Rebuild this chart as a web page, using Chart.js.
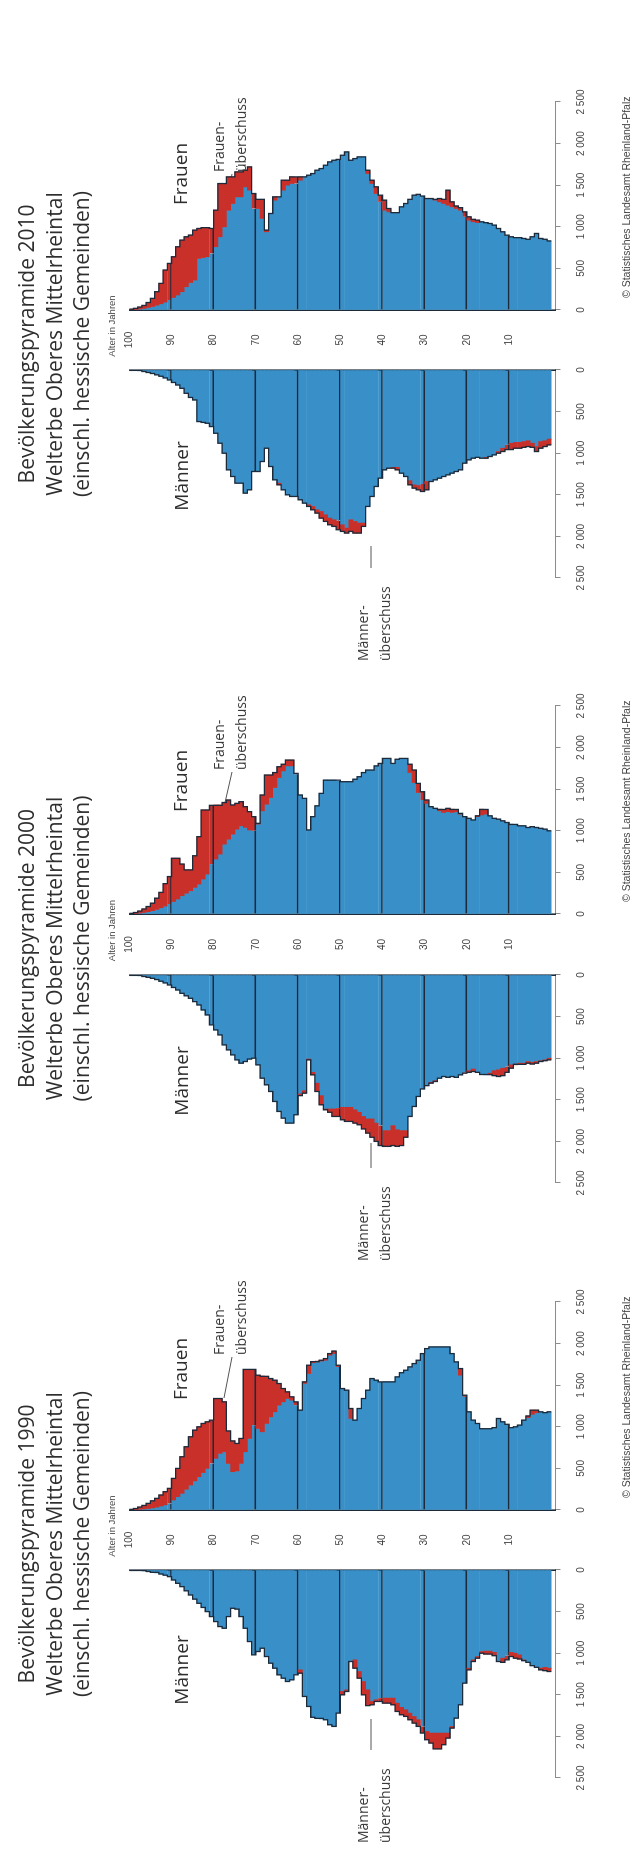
<!DOCTYPE html>
<html><head><meta charset="utf-8">
<script src="https://cdn.jsdelivr.net/npm/chart.js@4.4.1/dist/chart.umd.min.js"></script>
<style>
html,body{margin:0;padding:0;background:#fff;width:636px;height:1854px;overflow:hidden}
#stage{position:absolute;left:0;top:0;width:1854px;height:636px;transform-origin:0 0;transform:rotate(-90deg) translateX(-1854px);background:#fff}
#stage canvas{position:absolute}
.t{position:absolute;white-space:nowrap;color:#2e2e2e;font-family:"Open Sans",sans-serif}
.title{font-size:21px;line-height:27.5px;text-align:center;width:420px}
.sex{font-size:19px;transform:translate(-50%,-50%)}
.note{font-size:14px;line-height:22px;color:#3a3a3a}
.small{font-family:"Liberation Sans",Arial,sans-serif;color:#444}
#lines{position:absolute;left:0;top:0}
</style></head>
<body>
<div id="stage"><svg id="lines" width="1854" height="636"></svg></div>
<script>
// ---------- data (persons per single year of age, index = age 0..99) ----------
const ages = Array.from({length: 100}, (_, i) => i);
const ageTicks = [10, 20, 30, 40, 50, 60, 70, 80, 90, 100];
const valueTicks = [0, 500, 1000, 1500, 2000, 2500];

const male1990 = [1220,1210,1200,1170,1150,1110,1090,1070,1060,1040,
 1080,1110,1100,1030,1010,1010,1000,1060,1100,1200,
 1360,1620,1780,1900,2020,2100,2150,2150,2080,2040,
 1960,1880,1840,1800,1760,1740,1700,1620,1600,1600,
 1580,1580,1620,1630,1500,1300,1180,1100,1460,1500,
 1720,1880,1860,1800,1790,1780,1770,1640,1520,1240,
 1260,1320,1340,1300,1260,1180,1120,1040,940,980,
 1020,860,700,560,470,460,560,700,680,620,
 560,500,450,400,350,300,250,200,160,120,
 80,62,48,35,25,18,12,8,4,2];
const female1990 = [1180,1170,1180,1200,1200,1130,1080,1020,1000,990,
 1030,1060,1100,990,975,975,980,1040,1080,1180,
 1380,1700,1780,1880,1960,1960,1960,1960,1960,1940,
 1880,1800,1760,1720,1680,1650,1600,1540,1540,1540,
 1540,1560,1580,1440,1340,1220,1080,1220,1440,1460,
 1740,1910,1880,1820,1800,1790,1780,1740,1540,1200,
 1300,1360,1420,1460,1520,1560,1580,1600,1610,1620,
 1690,1690,1690,860,800,830,950,1300,1340,1340,
 1080,1060,1040,1000,960,880,760,640,500,380,
 260,220,180,140,110,80,55,35,18,8];

const male2000 = [1020,1030,1040,1060,1070,1060,1070,1070,1080,1120,
 1170,1210,1220,1210,1200,1200,1190,1170,1160,1170,
 1180,1200,1230,1220,1230,1220,1240,1280,1300,1330,
 1370,1460,1580,1700,1950,2050,2060,2050,2060,2060,
 2050,2000,1950,1900,1850,1800,1780,1760,1760,1740,
 1700,1700,1650,1620,1560,1400,1200,1020,1420,1450,
 1680,1780,1780,1720,1640,1520,1400,1320,1240,1080,
 1000,1010,1040,1060,1020,960,900,840,720,660,
 600,480,420,360,320,280,250,220,180,150,
 120,95,75,55,40,28,18,10,5,2];
const female2000 = [1000,1020,1030,1040,1050,1040,1060,1060,1070,1080,
 1100,1120,1140,1150,1180,1250,1260,1180,1130,1150,
 1170,1210,1250,1260,1270,1250,1260,1270,1290,1370,
 1470,1570,1730,1800,1870,1870,1860,1810,1870,1870,
 1810,1780,1730,1730,1700,1650,1620,1590,1590,1590,
 1600,1610,1610,1610,1450,1300,1170,1010,1390,1430,
 1690,1850,1850,1800,1770,1700,1670,1670,1430,1090,
 1170,1230,1290,1350,1330,1310,1370,1340,1310,1310,
 1300,1250,1250,930,700,530,530,600,670,670,
 450,365,260,190,130,90,60,35,18,8];

const male2010 = [900,920,940,980,930,920,930,940,940,950,
 960,980,1000,1020,1040,1060,1060,1050,1060,1080,
 1120,1200,1220,1240,1260,1280,1300,1320,1340,1440,
 1460,1440,1420,1380,1280,1240,1200,1180,1180,1200,
 1300,1400,1520,1640,1880,1960,1960,1940,1960,1940,
 1920,1880,1860,1820,1780,1720,1680,1640,1600,1560,
 1520,1520,1500,1440,1380,1320,1160,940,1100,1220,
 1220,1440,1480,1360,1360,1280,1200,1000,880,760,
 680,640,630,620,360,330,280,220,180,150,
 120,95,75,58,42,30,18,10,5,2];
const female2010 = [830,850,860,920,880,850,860,870,870,880,
 900,940,980,1020,1040,1050,1060,1080,1090,1120,
 1180,1230,1250,1300,1440,1330,1340,1330,1340,1340,
 1370,1390,1380,1330,1280,1240,1170,1170,1220,1320,
 1380,1480,1560,1680,1840,1840,1820,1800,1900,1860,
 1810,1800,1780,1740,1700,1680,1640,1620,1600,1600,
 1600,1600,1560,1560,1360,1360,1160,960,1330,1330,
 1400,1720,1680,1660,1660,1600,1600,1520,1520,1200,
 980,990,990,980,960,900,880,840,760,640,
 560,480,320,220,140,90,55,35,20,10];

// ---------- styling / layout ----------
const BLUE = '#3990c8', RED = '#c9302a', DARK = '#1c2a3a', AXIS = '#8c8c8c';
const TOP = 129.3, CANVAS_H = 600, XAXIS_H = 44.5, SIDE_W = 208;
const TICK_FONT = {family: '"Liberation Sans", Arial, sans-serif', size: 10};

const panels = [
  {year: '1990', male: male1990, female: female1990, xm: 284, xf: 344, fNote: 155, fLead: [153, 112], mLead: [-180, -149], mNote: -273, fLab: 141, mLab: -100},
  {year: '2000', male: male2000, female: female2000, xm: 879, xf: 940, fNote: 144, fLead: [142, 107], mLead: [-193, -168], mNote: -286, fLab: 133, mLab: -106},
  {year: '2010', male: male2010, female: female2010, xm: 1484, xf: 1544, fNote: 138, fLead: [136, 92], mLead: [-198, -176], mNote: -291, fLab: 136, mLab: -106}
];

const fmt = v => String(v).replace(/\B(?=(\d{3})+(?!\d))/g, ' ');
const decadeBorder = ctx => (ctx.raw && ctx.raw.a > 0 && ctx.raw.a % 10 === 0) ? {top: 0, right: 0, bottom: 1.6, left: 0} : 0;

const measure = document.createElement('canvas').getContext('2d');
measure.font = '10px "Liberation Sans", Arial, sans-serif';
const widest100 = measure.measureText('100').width;

function makeSide(stage, own, other, isF, xBase, gap) {
  const c = document.createElement('canvas');
  const padOuter = 22;
  let left, width;
  if (isF) { left = xBase - gap; width = gap + SIDE_W + padOuter; }
  else { left = xBase - SIDE_W - padOuter; width = padOuter + SIDE_W + 3; }
  c.width = width; c.height = CANVAS_H;
  c.style.left = left + 'px'; c.style.top = '0px';
  c.style.width = width + 'px'; c.style.height = CANVAS_H + 'px';
  stage.appendChild(c);

  const blue = ages.map(a => ({x: [0, Math.min(own[a], other[a])], y: a + 0.5, a}));
  const red = ages.filter(a => own[a] > other[a]).map(a => ({x: [other[a], own[a]], y: a + 0.5, a}));
  const outline = ages.flatMap(a => [{x: own[a], y: a}, {x: own[a], y: a + 1}]);

  return new Chart(c, {
    type: 'bar',
    data: {datasets: [
      {type: 'line', data: outline, borderColor: DARK, borderWidth: 1.3, pointRadius: 0, tension: 0, fill: false, order: 0, indexAxis: 'y'},
      {data: red, backgroundColor: RED, borderColor: DARK, borderWidth: decadeBorder, grouped: false, barPercentage: 1, categoryPercentage: 1, order: 1},
      {data: blue, backgroundColor: BLUE, borderColor: DARK, borderWidth: decadeBorder, grouped: false, barPercentage: 1, categoryPercentage: 1, order: 2}
    ]},
    options: {
      indexAxis: 'y', responsive: false, animation: false, devicePixelRatio: 1,
      layout: {padding: {top: TOP, bottom: 0, left: isF ? 0 : padOuter, right: isF ? padOuter : 3}},
      plugins: {legend: {display: false}, tooltip: {enabled: false}, title: {display: false}},
      scales: {
        x: {
          type: 'linear', min: 0, max: 2500, reverse: !isF,
          grid: {display: true, drawOnChartArea: false, drawTicks: true, tickLength: 5, color: AXIS, lineWidth: 1},
          border: {display: true, color: AXIS, width: 1},
          ticks: {padding: 15, font: TICK_FONT, color: '#444', maxRotation: 0, autoSkip: false, callback: v => fmt(v)},
          afterBuildTicks: s => { s.ticks = valueTicks.map(v => ({value: v})); },
          afterFit: s => { s.height = XAXIS_H; s.paddingLeft = 0; s.paddingRight = 0; }
        },
        y: {
          type: 'linear', min: -1, max: 100, offset: false, position: isF ? 'left' : 'right',
          grid: {display: true, offset: false, drawOnChartArea: false, drawTicks: false},
          border: {display: true, color: DARK, width: 1.6},
          ticks: {display: isF, font: TICK_FONT, color: '#444', crossAlign: 'center', padding: gap / 2 - widest100 / 2, callback: v => String(v)},
          afterBuildTicks: s => { s.ticks = ageTicks.map(v => ({value: v})); },
          afterFit: s => { s.width = isF ? gap : 0; s.paddingTop = 0; s.paddingBottom = 0; }
        }
      }
    }
  });
}

function addText(stage, cls, html, style) {
  const d = document.createElement('div');
  d.className = 't ' + cls;
  d.innerHTML = html;
  Object.assign(d.style, style);
  stage.appendChild(d);
  return d;
}
function addLine(svg, x1, y1, x2, y2) {
  const l = document.createElementNS('http://www.w3.org/2000/svg', 'line');
  l.setAttribute('x1', x1); l.setAttribute('y1', y1); l.setAttribute('x2', x2); l.setAttribute('y2', y2);
  l.setAttribute('stroke', '#555'); l.setAttribute('stroke-width', '1');
  svg.appendChild(l);
}

const stage = document.getElementById('stage');
const svg = document.getElementById('lines');
panels.forEach(p => {
  const gap = p.xf - p.xm;
  const mid = (p.xm + p.xf) / 2;
  makeSide(stage, p.male, p.female, false, p.xm, gap);
  makeSide(stage, p.female, p.male, true, p.xf, gap);

  addText(stage, 'title', 'Bevölkerungspyramide ' + p.year + '<br>Welterbe Oberes Mittelrheintal<br>(einschl. hessische Gemeinden)',
    {left: (mid - 4 - 210) + 'px', top: '13px'});
  addText(stage, 'small', 'Alter in Jahren', {fontSize: '9.5px', left: (mid + 14) + 'px', top: '111px', transform: 'translate(-50%,-50%)'});
  addText(stage, 'sex', 'Frauen', {left: (p.xf + p.fLab) + 'px', top: '180px'});
  addText(stage, 'sex', 'Männer', {left: (p.xm + p.mLab) + 'px', top: '181px'});
  addText(stage, 'note', 'Frauen-<br>überschuss', {left: (p.xf + p.fNote) + 'px', top: '208px'});
  addText(stage, 'note', 'Männer-<br>überschuss', {left: (p.xm + p.mNote) + 'px', top: '352px'});
  addText(stage, 'small', '© Statistisches Landesamt Rheinland-Pfalz', {fontSize: '10.5px', left: (p.xf + 12) + 'px', top: '620px'});
  addLine(svg, p.xf + p.fLead[0], 232, p.xf + p.fLead[1], 224);
  addLine(svg, p.xm + p.mLead[0], 371, p.xm + p.mLead[1], 371);
});
</script>
</body></html>
